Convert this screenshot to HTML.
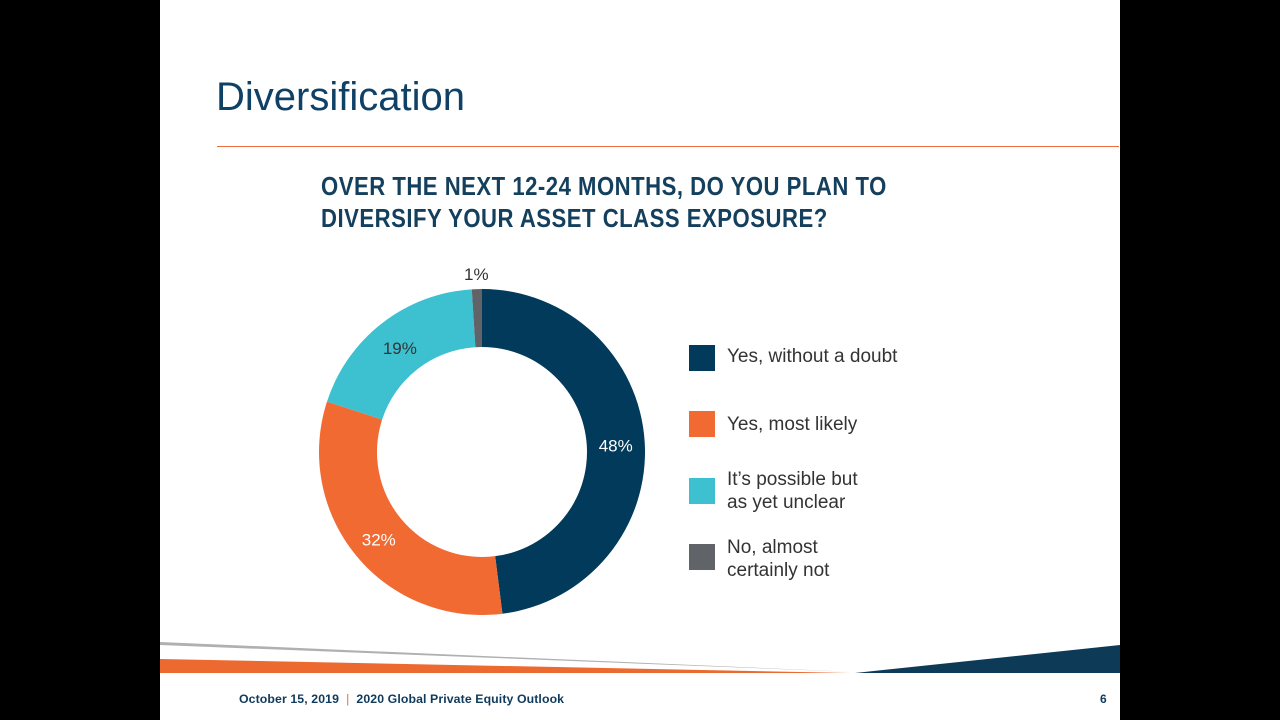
<!DOCTYPE html>
<html><head><meta charset="utf-8"><style>
body{margin:0;width:1280px;height:720px;background:#000;position:relative;overflow:hidden;font-family:"Liberation Sans",sans-serif}
#slide{position:absolute;left:160px;top:0;width:960px;height:720px;background:#fff}
.t{position:absolute;white-space:nowrap}
</style></head><body>
<div id="slide">
<div class="t" style="left:56px;top:75px;font-size:40px;color:#0f4066">Diversification</div>
<div style="position:absolute;left:57px;top:146px;width:902px;height:1px;background:#e8703a"></div>
<div class="t" style="left:161px;top:170px;font-weight:bold;font-size:26px;line-height:32px;color:#14405e;letter-spacing:0.6px;transform:scaleX(0.85);transform-origin:0 0">OVER THE NEXT 12-24 MONTHS, DO YOU PLAN TO<br>DIVERSIFY YOUR ASSET CLASS EXPOSURE?</div>
<svg width="960" height="720" style="position:absolute;left:0;top:0" id="chart">
<polygon points="0,659 690,673 0,673" fill="#ec6a30"/>
<polygon points="0,642 695,672 0,645" fill="#b0b0b0"/>
<polygon points="695,673 960,645 960,673" fill="#0d3a57"/>
<g id="donut"></g>
</svg>
<div>
<div style="position:absolute;left:529px;top:345px;width:26px;height:26px;background:#013a5a"></div>
<div class="t" style="left:567px;top:346px;font-size:19px;color:#333">Yes, without a doubt</div>
<div style="position:absolute;left:529px;top:411px;width:26px;height:26px;background:#f06a32"></div>
<div class="t" style="left:567px;top:414px;font-size:19px;color:#333">Yes, most likely</div>
<div style="position:absolute;left:529px;top:478px;width:26px;height:26px;background:#3dc1d0"></div>
<div class="t" style="left:567px;top:468px;font-size:19px;line-height:23px;color:#333">It’s possible but<br>as yet unclear</div>
<div style="position:absolute;left:529px;top:544px;width:26px;height:26px;background:#606468"></div>
<div class="t" style="left:567px;top:536px;font-size:19px;line-height:23px;color:#333">No, almost<br>certainly not</div>
</div>
<div class="t" style="left:79px;top:692px;font-size:12.3px;font-weight:bold;color:#0f3a5c;letter-spacing:0.1px">October 15, 2019 &nbsp;<span style="color:#e8703a;font-weight:normal">|</span>&nbsp; 2020 Global Private Equity Outlook</div>
<div class="t" style="left:940px;top:692px;font-size:12px;font-weight:bold;color:#0f3a5c">6</div>
</div>
<script>
const categories=["Yes, without a doubt","Yes, most likely","It's possible but as yet unclear","No, almost certainly not"];
const values=[48,32,19,1];
const labels=["48%","32%","19%","1%"];
const colors=["#013a5a","#f06a32","#3dc1d0","#606468"];
const cx=322,cy=452,R=163,r=105;
const g=document.getElementById('donut');
const NS='http://www.w3.org/2000/svg';
const total=values.reduce((a,b)=>a+b,0);
function pt(a,rad){return [cx+rad*Math.sin(a),cy-rad*Math.cos(a)];}
let acc=0;
values.forEach((v,i)=>{
  const a0=acc/total*2*Math.PI;acc+=v;const a1=acc/total*2*Math.PI;
  const lg=(a1-a0)>Math.PI?1:0;
  const [x0,y0]=pt(a0,R),[x1,y1]=pt(a1,R),[x2,y2]=pt(a1,r),[x3,y3]=pt(a0,r);
  const p=document.createElementNS(NS,'path');
  p.setAttribute('d',`M${x0},${y0}A${R},${R} 0 ${lg} 1 ${x1},${y1}L${x2},${y2}A${r},${r} 0 ${lg} 0 ${x3},${y3}Z`);
  p.setAttribute('fill',colors[i]);
  
  
  g.appendChild(p);
  const am=(a0+a1)/2;
  const [lx,ly]=v<5?pt(am,R+17):pt(am,(R+r)/2);
  const t=document.createElementNS(NS,'text');
  t.setAttribute('x',lx);t.setAttribute('y',ly+8);
  t.setAttribute('text-anchor','middle');
  t.setAttribute('font-size','17');
  t.setAttribute('font-family','Liberation Sans, sans-serif');
  t.setAttribute('fill',i===0||i===1?'#fff':'#333');
  t.textContent=labels[i];
  
  
  g.appendChild(t);
});
</script>
</body></html>
